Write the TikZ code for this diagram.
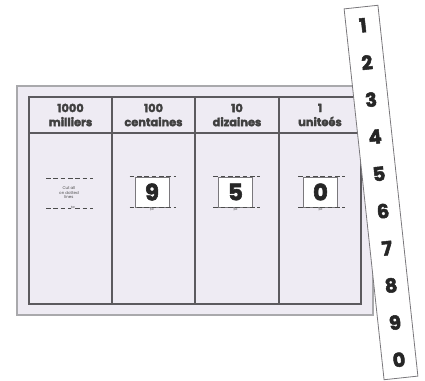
\documentclass[tikz,border=0pt]{standalone}
\usepackage{fontspec}
\setmainfont{Poppins}[BoldFont={Poppins Bold},BoldFeatures={FakeBold=2.6}]
\newfontfamily\symfont{DejaVu Sans}
\usetikzlibrary{positioning,calc}
\definecolor{panelfill}{HTML}{EEEBF3}
\definecolor{panelgray}{HTML}{A9A9AC}
\definecolor{tablegray}{HTML}{5C5A5E}
\definecolor{stripgray}{HTML}{7A787C}
\tikzset{panel/.style={draw=panelgray,fill=panelfill,line width=0.9pt}}
\tikzset{grid/.style={draw=tablegray,line width=1.2pt}}
\tikzset{head/.style={align=center,inner sep=0pt,text=black!75,font=\bfseries\fontsize{8.5}{10.5}\selectfont}}
\tikzset{card/.style={draw=stripgray,fill=white,line width=0.5pt,minimum width=25.5pt,minimum height=22.5pt,inner sep=0pt,font=\bfseries\fontsize{17}{17}\selectfont,text=black!85}}
\tikzset{cutline/.style={draw=black!70,line width=0.5pt,dash pattern=on 3.5pt off 2pt}}
\tikzset{tiny/.style={inner sep=0pt,align=center,text=black!70,font=\fontsize{3}{3.4}\selectfont}}
\tikzset{snip/.style={inner sep=0pt,text=black!70,font=\symfont\fontsize{4}{4}\selectfont}}
\tikzset{strip/.style={draw=stripgray,fill=white,line width=0.6pt,minimum width=25.5pt,minimum height=279.75pt,inner sep=0pt}}
\tikzset{stripdigit/.style={inner sep=0pt,text=black!85,font=\bfseries\fontsize{14.5}{14.5}\selectfont}}
\begin{document}
\begin{tikzpicture}[x=0.75pt,y=-0.75pt]
	\useasboundingbox (0,0) rectangle (425,381);
		% sheet and table
		\draw[panel] (17,86) rectangle (373,315);
		\coordinate (tl) at (29,97);
		\coordinate (br) at (361,304);
		\draw[grid] (tl) rectangle (br);
		\draw[grid] (29,133) -- (361,133);
		\foreach \x in {112,195,279}
			\draw[grid] (\x,97) -- (\x,304);

		\foreach \x/\n/\t [count=\i] in {70.5/1000/milliers,153.5/100/centaines,237/10/dizaines,320/1/uniteés}
			\node[head] (h\i) at (\x,115) {\n\\\t};

		% cut-out hint in the first column
		\coordinate (c1a) at (46,178);
		\coordinate (c1b) at (93,178);
		\coordinate (c1c) at (46,208);
		\coordinate (c1d) at (93,208);
		\draw[cutline] (c1a) -- (c1b);
		\draw[cutline] (c1c) -- (c1d);
		\node[tiny] (hint) at (69,193) {Cut all\\on dotted\\lines};
		\node[snip,fill=panelfill] (sc1) at (73,208) {✂};

		% digit cards
		\node[card] (c2) at (152,192) {9};
		\node[card] (c3) at (235.5,192) {5};
		\node[card] (c4) at (320.5,192) {0};
		\foreach \c in {c2,c3,c4}{
			\draw[cutline] ($(\c.north west)+(-5,0)$) -- ($(\c.north east)+(7,0)$);
			\draw[cutline] ($(\c.south west)+(-5,0)$) -- ($(\c.south east)+(7,0)$);
			\node[snip,below=0.5pt of \c.south] (s\c) {✂};
		}

		% number strip
		\node[strip,rotate=6.15] (strip) at (381,192.5) {};
		\foreach \d [count=\i] in {1,2,3,4,5,6,7,8,9,0}
			\node[stripdigit,rotate=6.15] (n\i) at ($(strip.north)!{(\i-0.5)/10}!(strip.south)$) {\d};
	\end{tikzpicture}
\end{document}
